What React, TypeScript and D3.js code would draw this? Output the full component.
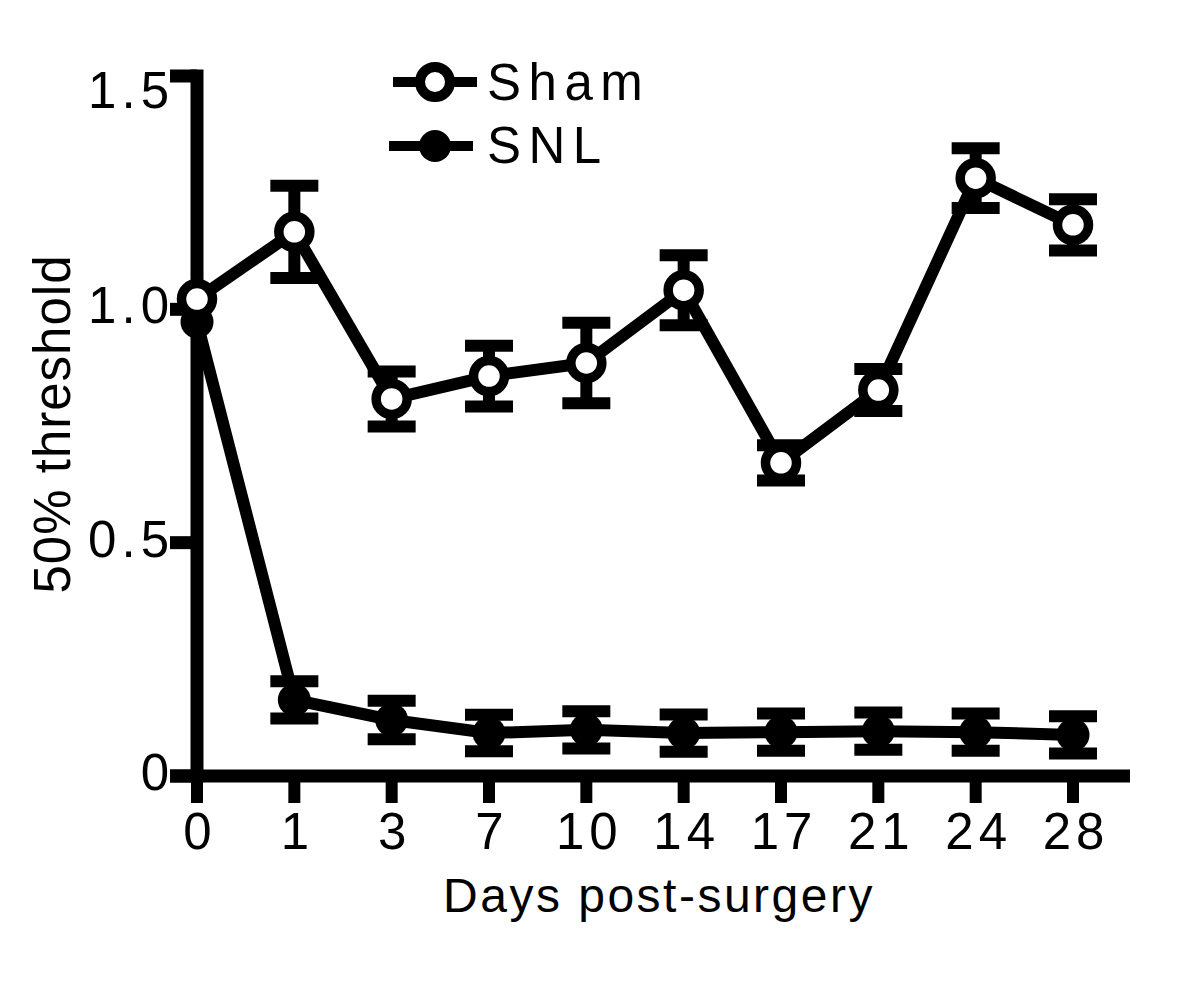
import React from 'react';
import * as d3 from 'd3';

const days = ['0', '1', '3', '7', '10', '14', '17', '21', '24', '28'];
const shamMean = [1.022, 1.166, 0.808, 0.857, 0.885, 1.041, 0.671, 0.827, 1.281, 1.181];
const shamErr = [0, 0.099, 0.059, 0.065, 0.086, 0.075, 0.038, 0.045, 0.064, 0.055];
const snlMean = [0.973, 0.163, 0.12, 0.092, 0.099, 0.092, 0.094, 0.096, 0.094, 0.088];
const snlErr = [0, 0.04, 0.041, 0.039, 0.04, 0.04, 0.04, 0.04, 0.04, 0.04];
const yTicks = [0, 0.5, 1.0, 1.5];
const yTickLabels = ['0', '0.5', '1.0', '1.5'];
const seriesNames = ['Sham', 'SNL'];
const xTitle = 'Days post-surgery';
const yTitle = '50% threshold';

const FONT = '"Liberation Sans", Arial, Helvetica, sans-serif';

export default function App() {
  const W = 1200;
  const H = 981;
  const x = d3.scalePoint<string>().domain(days).range([197, 1073]);
  const y = d3.scaleLinear().domain([0, 1.5]).range([776, 76]);
  const axisW = 13;
  const lineW = 12;
  const capW = 48;
  const capT = 12;

  const line = d3
    .line<number>()
    .x((_, i) => x(days[i]) as number)
    .y((d) => y(d));

  const renderErr = (means: number[], errs: number[], key: string) =>
    means.map((m, i) => {
      const e = errs[i];
      if (!e) return null;
      const cx = x(days[i]) as number;
      const y1 = y(m + e);
      const y0 = y(m - e);
      return (
        <g key={key + i}>
          <line x1={cx} x2={cx} y1={y1} y2={y0} stroke="#000" strokeWidth={capT} />
          <line x1={cx - capW / 2} x2={cx + capW / 2} y1={y1} y2={y1} stroke="#000" strokeWidth={capT} />
          <line x1={cx - capW / 2} x2={cx + capW / 2} y1={y0} y2={y0} stroke="#000" strokeWidth={capT} />
        </g>
      );
    });

  return (
    <svg
      width={W}
      height={H}
      style={{ position: 'absolute', left: 0, top: 0, background: '#fff' }}
      fontFamily={FONT}
    >
      <rect x={0} y={0} width={W} height={H} fill="#fff" />
      {/* Axes */}
      <line x1={x(days[0])} x2={x(days[0])} y1={y(1.5) - axisW / 2} y2={y(0) + axisW / 2} stroke="#000" strokeWidth={axisW} />
      <line x1={170} x2={1130} y1={y(0)} y2={y(0)} stroke="#000" strokeWidth={axisW} />
      {yTicks.map((t, i) => (
        <g key={'yt' + i}>
          <line x1={170} x2={x(days[0])} y1={y(t)} y2={y(t)} stroke="#000" strokeWidth={axisW} />
          <text
            x={174}
            y={Math.max(y(t) + 14, 108)}
            textAnchor="end"
            fontSize={51}
            letterSpacing={5}
            fill="#000"
          >
            {yTickLabels[i]}
          </text>
        </g>
      ))}
      {days.map((d) => (
        <g key={'xt' + d}>
          <line x1={x(d)} x2={x(d)} y1={y(0)} y2={y(0) + 27} stroke="#000" strokeWidth={12} />
          <text x={(x(d) as number) + 3} y={849} textAnchor="middle" fontSize={51} letterSpacing={5} fill="#000">
            {d}
          </text>
        </g>
      ))}
      <text x={659} y={912} textAnchor="middle" fontSize={48} letterSpacing={2.5} fill="#000">
        {xTitle}
      </text>
      <text
        transform={`translate(70,424) rotate(-90)`}
        textAnchor="middle"
        fontSize={51}
        letterSpacing={1}
        fill="#000"
      >
        {yTitle}
      </text>

      {/* Error bars */}
      {renderErr(snlMean, snlErr, 'snle')}
      {renderErr(shamMean, shamErr, 'shame')}
      {/* Lines */}
      <path d={line(snlMean) || ''} fill="none" stroke="#000" strokeWidth={lineW} strokeLinejoin="round" />
      <path d={line(shamMean) || ''} fill="none" stroke="#000" strokeWidth={lineW} strokeLinejoin="round" />
      {/* Markers */}
      {snlMean.map((m, i) => (
        <circle key={'snlm' + i} cx={x(days[i])} cy={y(m)} r={16.5} fill="#000" />
      ))}
      {shamMean.map((m, i) => (
        <circle key={'shamm' + i} cx={x(days[i])} cy={y(m)} r={15.5} fill="#fff" stroke="#000" strokeWidth={9.5} />
      ))}

      {/* Legend */}
      <g>
        <line x1={393} x2={477} y1={82} y2={82} stroke="#000" strokeWidth={10} />
        <circle cx={435} cy={82} r={15} fill="#fff" stroke="#000" strokeWidth={10} />
        <text x={487} y={100} fontSize={51} letterSpacing={7.5} fill="#000">
          {seriesNames[0]}
        </text>
        <line x1={389} x2={473} y1={146} y2={146} stroke="#000" strokeWidth={10} />
        <circle cx={435} cy={146} r={16} fill="#000" />
        <text x={487} y={163} fontSize={51} letterSpacing={7.5} fill="#000">
          {seriesNames[1]}
        </text>
      </g>
    </svg>
  );
}
